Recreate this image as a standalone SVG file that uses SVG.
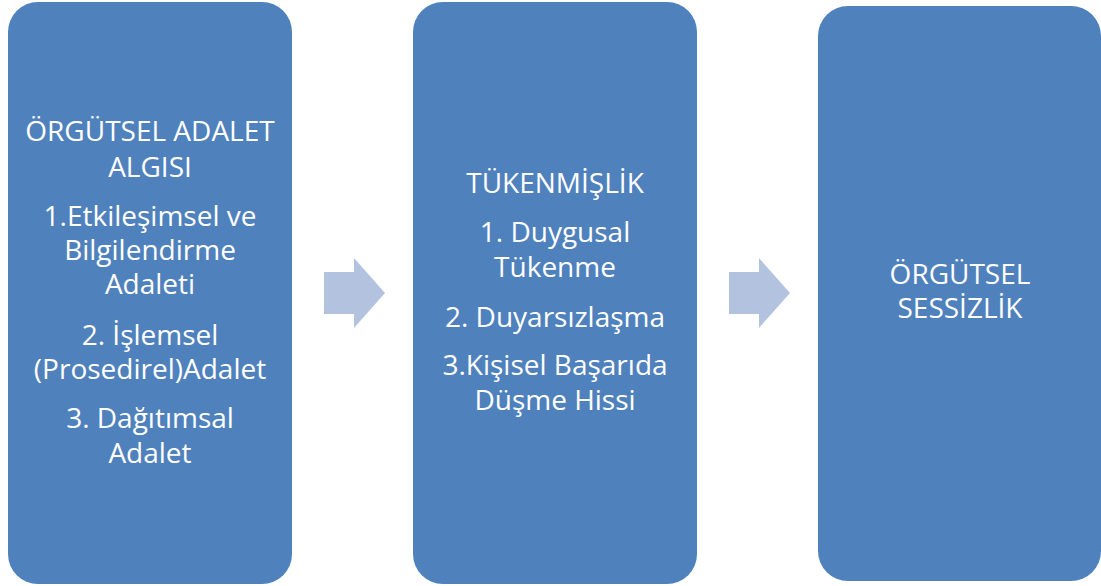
<svg xmlns="http://www.w3.org/2000/svg" width="1101" height="586" viewBox="0 0 1101 586">
<style>
.box{fill:#4F81BD;}
.arr{fill:#B3C3DF;}
text{font-family:"Open Sans","Liberation Sans",Arial,sans-serif;font-size:28px;fill:#FFFFFF;text-anchor:middle;}
</style>
<rect width="1101" height="586" fill="#FFFFFF"/>
<g id="node1">
<rect class="box" x="8" y="2" width="284" height="582" rx="30" ry="30"/>
<text x="150" y="141">ÖRGÜTSEL ADALET</text>
<text x="150" y="177">ALGISI</text>
<text x="150" y="226">1.Etkileşimsel ve</text>
<text x="150" y="260">Bilgilendirme</text>
<text x="150" y="294">Adaleti</text>
<text x="150" y="345">2. İşlemsel</text>
<text x="150" y="379">(Prosedirel)Adalet</text>
<text x="150" y="428">3. Dağıtımsal</text>
<text x="150" y="463">Adalet</text>
</g>
<g id="node2">
<rect class="box" x="413" y="2" width="284" height="582" rx="30" ry="30"/>
<text x="555" y="193">TÜKENMİŞLİK</text>
<text x="555" y="242">1. Duygusal</text>
<text x="555" y="277">Tükenme</text>
<text x="555" y="327">2. Duyarsızlaşma</text>
<text x="555" y="375">3.Kişisel Başarıda</text>
<text x="555" y="410">Düşme Hissi</text>
</g>
<g id="node3">
<rect class="box" x="818" y="6" width="283" height="575" rx="30" ry="30"/>
<text x="960" y="284">ÖRGÜTSEL</text>
<text x="960" y="318">SESSİZLİK</text>
</g>
<g id="connectors">
<path class="arr" d="M324,272 H354 V258 L385,293 L354,328 V314 H324 Z"/>
<path class="arr" d="M729,272 H759 V258 L790,293 L759,328 V314 H729 Z"/>
</g>
</svg>
